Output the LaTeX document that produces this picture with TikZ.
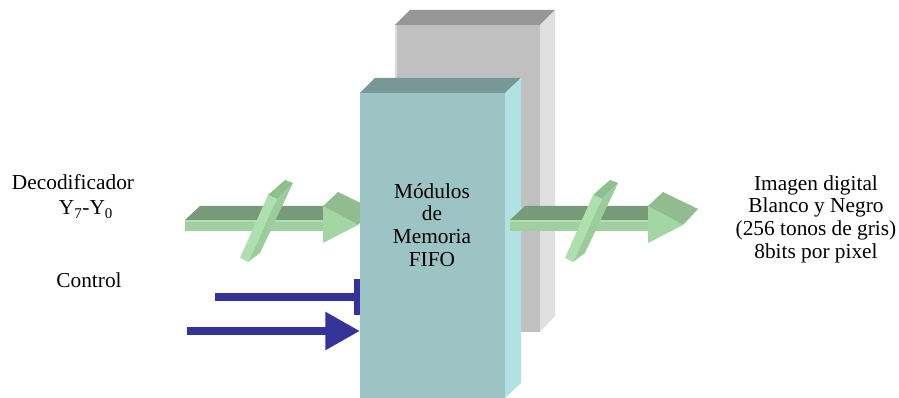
\documentclass[tikz,border=0pt]{standalone}
\usepackage{fontspec}
\setmainfont{Liberation Serif}
\usetikzlibrary{arrows.meta}

\definecolor{grayfront}{HTML}{C0C0C0}
\definecolor{graytop}{HTML}{969696}
\definecolor{grayside}{HTML}{E0E0E0}
\definecolor{tealfront}{HTML}{9CC4C4}
\definecolor{tealtop}{HTML}{789898}
\definecolor{tealside}{HTML}{B0E2E4}
\definecolor{shafttop}{HTML}{789A78}
\definecolor{shaftfront}{HTML}{A0D0A0}
\definecolor{headtop}{HTML}{90BC90}
\definecolor{headfront}{HTML}{A4D6A4}
\definecolor{slabtop}{HTML}{8EC08E}
\definecolor{slabside}{HTML}{9CCC9C}
\definecolor{slabfront}{HTML}{AEDFAE}
\definecolor{ctrlblue}{HTML}{333399}

% 3D bus arrow with slash, shifted along x
\newcommand{\busarrow}[1]{%
    \begin{scope}[shift={(#1,0)}]
        % shaft
        \fill[shafttop] (185,220) -- (200,206) -- (338,206) -- (323,220) -- cycle;
        \fill[shaftfront] (185,220) rectangle (323,231);
        \fill[slabfront] (185,220) rectangle (323,222);
        % head
        \fill[headtop] (323,206) -- (338,192) -- (373,209) -- (358,225) -- cycle;
        \fill[headfront] (323,206) -- (323,243) -- (358,225) -- cycle;
        % slash
        \fill[slabtop] (268,195) -- (285,180) -- (293,183) -- (277,199) -- cycle;
        \fill[slabside] (277,199) -- (293,183) -- (260,253) -- (248,262) -- cycle;
        \fill[slabfront] (268,195) -- (277,199) -- (248,262) -- (240,258) -- cycle;
    \end{scope}}

\begin{document}
\begin{tikzpicture}[x=0.75pt, y=-0.75pt,
    lbl/.style={font=\fontsize{16}{17}\selectfont, inner sep=0pt},
    ctrl/.style={draw=ctrlblue, line width=6.5pt}]

        \useasboundingbox (0,0) rectangle (899,398);

        % ====================
        % 1. Back block (gray)
        % ====================
        \fill[graytop] (395,25) -- (410,10) -- (555,10) -- (540,25) -- cycle;
        \fill[grayside] (540,25) -- (555,10) -- (555,316) -- (540,332) -- cycle;
        \fill[grayfront] (395,25) rectangle (540,332);
        \fill[grayside!80!grayfront] (395,25) rectangle (397,332);

        % ====================
        % 2. Inputs
        % ====================
        \busarrow{0}

        \coordinate (ctrlA) at (215,297);
        \coordinate (ctrlB) at (187,331);
        \coordinate (fifoNW) at (360,93);

        \draw[ctrl, -{Bar[width=27pt, line width=4.5pt]}] (ctrlA) -- (ctrlA -| fifoNW);
        \draw[ctrl, -{Triangle[length=26pt, width=27pt]}] (ctrlB) -- (ctrlB -| fifoNW);

        % ====================
        % 3. FIFO block (teal)
        % ====================
        \fill[tealtop] (fifoNW) -- (375,78) -- (521,78) -- (505,93) -- cycle;
        \fill[tealside] (505,93) -- (521,78) -- (521,383) -- (505,398) -- cycle;
        \fill[tealfront] (fifoNW) rectangle (505,398);

        % ====================
        % 4. Output
        % ====================
        \busarrow{325}

        % labels
        \node[lbl, anchor=base] (deco) at (73,190) {Decodificador};
        \node[lbl, anchor=base] (bus) at (86,215) {Y\textsubscript{7}-Y\textsubscript{0}};
        \node[lbl, anchor=base] (ctrltxt) at (89,288) {Control};
        \node[lbl, align=center] (fifotxt) at (432,225) {Módulos\\de\\Memoria\\FIFO};
        \node[lbl, align=center] (salida) at (816,219)
            {Imagen digital\\Blanco y Negro\\(256 tonos de gris)\\8bits por pixel};

\end{tikzpicture}
\end{document}
